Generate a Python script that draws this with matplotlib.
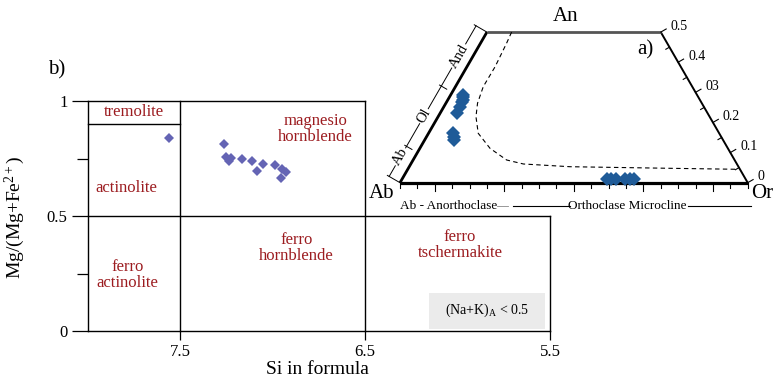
import numpy as np
import matplotlib
matplotlib.use('Agg')
import matplotlib.pyplot as plt

plt.rcParams['font.family'] = ['Liberation Serif', 'DejaVu Serif']
plt.rcParams['mathtext.fontset'] = 'stix'
plt.rcParams['mathtext.default'] = 'regular'

# b) amphibole classification (Leake)
si = [7.56, 7.262, 7.251, 7.237, 7.226, 7.165, 7.111, 7.082, 7.05, 6.988, 6.949, 6.927, 6.954]
mg = [0.839, 0.812, 0.758, 0.739, 0.751, 0.746, 0.739, 0.697, 0.725, 0.723, 0.703, 0.691, 0.664]
si_ticks = [7.5, 6.5, 5.5]
mg_ticks = [0, 0.5, 1]
field_names = ['tremolite', 'magnesio\nhornblende', 'actinolite', 'ferro\nactinolite',
               'ferro\nhornblende', 'ferro\ntschermakite']
field_si = [7.75, 6.77, 7.79, 7.784, 6.869, 5.986]
field_mg = [0.952, 0.878, 0.62, 0.243, 0.361, 0.374]

# a) feldspar ternary, fractions of Or and An (Ab = rest)
fsp_or = [0.036, 0.040, 0.043, 0.046, 0.048, 0.042, 0.071, 0.078, 0.085,
          0.588, 0.600, 0.615, 0.642, 0.655, 0.666]
fsp_an = [0.291, 0.283, 0.269, 0.252, 0.230, 0.276, 0.164, 0.153, 0.142,
          0.012, 0.012, 0.012, 0.012, 0.012, 0.012]
solvus_or = [0.071, 0.075, 0.081, 0.080, 0.091, 0.109, 0.143, 0.202, 0.269, 0.324, 0.462, 0.753, 0.95]
solvus_an = [0.5, 0.463, 0.385, 0.319, 0.264, 0.219, 0.164, 0.114, 0.0754, 0.0621, 0.0531, 0.0478, 0.0445]
an_ticks = [0, 0.1, 0.2, 0.3, 0.4, 0.5]
an_labels = ['0', '0.1', '0.2', '03', '0.4', '0.5']
plag_names = ['Ab', 'Ol', 'And']
plag_bounds = [0, 0.1, 0.3, 0.5]

red = '#9c1c20'

fig = plt.figure(figsize=(7.77, 3.81), dpi=100)

# ---------- b) ----------
ax = fig.add_axes([87.5 / 777, 50 / 381, 462.5 / 777, 230 / 381])
ax.set_xlim(8.0, 5.5)
ax.set_ylim(0, 1)
for s in ['top', 'right']:
    ax.spines[s].set_visible(False)
for s in ['left', 'bottom']:
    ax.spines[s].set_linewidth(1.0)
ax.set_xticks(si_ticks)
ax.set_xticklabels(['7.5', '6.5', '5.5'])
ax.set_yticks(mg_ticks)
ax.set_yticklabels(['0', '0.5', '1'])
ax.set_yticks([0.25, 0.75], minor=True)
ax.tick_params(axis='y', which='major', length=11.5, width=0.9, labelsize=12, pad=3)
ax.tick_params(axis='y', which='minor', length=8, width=0.9)
ax.tick_params(axis='x', which='major', length=6.5, width=0.9, labelsize=12, pad=3)

lk = dict(color='black', lw=1.0, clip_on=False)
ax.plot([8.0, 6.5], [1, 1], **lk)
ax.plot([8.0, 7.5], [0.9, 0.9], **lk)
ax.plot([7.5, 7.5], [0, 1], **lk)
ax.plot([8.0, 5.5], [0.5, 0.5], **lk)
ax.plot([6.5, 6.5], [0, 1], **lk)
ax.plot([5.5, 5.5], [0, 0.5], **lk)

ax.add_patch(plt.Rectangle((6.154, 0.007), 5.527 - 6.154, 0.157, color='#ebebeb', lw=0))
ax.text(5.841, 0.091, '(Na+K)$_{\\mathregular{A}}$ < 0.5', fontsize=10, ha='center', va='center')

for name, x, y in zip(field_names, field_si, field_mg):
    ax.text(x, y, name, color=red, fontsize=12, ha='center', va='center', linespacing=0.95)

ax.plot(si, mg, 'D', color='#6464b4', ms=5, mew=0)

fig.text(317 / 777, 1 - 370 / 381, 'Si in formula', fontsize=14, ha='center', va='center')
fig.text(15 / 777, 1 - 217 / 381, 'Mg/(Mg+Fe$^{2+}$)', fontsize=14, ha='center', va='center',
         rotation=90)
fig.text(57 / 777, 1 - 70 / 381, 'b)', fontsize=15, ha='center', va='center')

# ---------- a) ----------
tx = fig.add_axes([400 / 777, (381 - 182.7) / 381, 347.7 / 777, 150.6 / 381])
tx.set_xlim(0, 1)
tx.set_ylim(0, np.sqrt(3) / 4)
tx.axis('off')
h = np.sqrt(3) / 2


def tern(o, a):
    o = np.asarray(o, dtype=float)
    a = np.asarray(a, dtype=float)
    return o + a / 2, a * h


kw = dict(clip_on=False, solid_capstyle='butt')
tx.plot([0, 1], [0, 0], color='black', lw=2.3, **kw)
x, y = tern([0, 0], [0, 0.5])
tx.plot(x, y, color='black', lw=2.0, **kw)
x, y = tern([1, 0.5], [0, 0.5])
tx.plot(x, y, color='black', lw=1.4, **kw)
x, y = tern([0, 0.5], [0.5, 0.5])
tx.plot(x, y, color='#555555', lw=2.0, **kw)

# bottom ticks
for k in range(21):
    ln = 0.024 if k in (2, 6, 10, 14, 18) else 0.016
    tx.plot([k * 0.05, k * 0.05], [0, -ln], color='black', lw=0.8, clip_on=False)

# right edge ticks and labels
nr = np.array([h, 0.5])
for k in range(11):
    a = k * 0.05
    bx, by = tern(1 - a, a)
    if k % 2 == 0:
        tx.plot([bx, bx + nr[0] * 0.018], [by, by + nr[1] * 0.018], color='black', lw=0.8, clip_on=False)
    else:
        tx.plot([bx, bx - nr[0] * 0.012], [by, by - nr[1] * 0.012], color='black', lw=0.8, clip_on=False)
for a, lab in zip(an_ticks, an_labels):
    bx, by = tern(1 - a, a)
    tx.text(bx + nr[0] * 0.033, by + nr[1] * 0.033, lab, fontsize=10, ha='left', va='center')

# plagioclase bracket on the left edge
nl = np.array([-h, 0.5])
d0 = 0.036
x0, y0 = tern(0, 0)
x1, y1 = tern(0, 0.5)
tx.plot([x0 + nl[0] * d0, x1 + nl[0] * d0], [y0 + nl[1] * d0, y1 + nl[1] * d0],
        color='black', lw=0.7, clip_on=False)
for b in plag_bounds:
    bx, by = tern(0, b)
    inner = 0.0 if b in (0, 0.5) else d0 - 0.018
    tx.plot([bx + nl[0] * inner, bx + nl[0] * (d0 + 0.006)],
            [by + nl[1] * inner, by + nl[1] * (d0 + 0.006)], color='black', lw=0.7, clip_on=False)
for name, lo, hi in zip(plag_names, plag_bounds[:-1], plag_bounds[1:]):
    bx, by = tern(0, (lo + hi) / 2 + (0.015 if name == 'Ab' else 0))
    tx.text(bx + nl[0] * d0, by + nl[1] * d0, name, fontsize=10.5, rotation=60,
            ha='center', va='center', rotation_mode='anchor',
            bbox=dict(facecolor='white', edgecolor='none', pad=0.6))

# solvus
x, y = tern(solvus_or, solvus_an)
tx.plot(x, y, color='black', lw=0.8, ls=(0, (4, 3)), clip_on=False)

# feldspar analyses
x, y = tern(fsp_or, fsp_an)
tx.plot(x, y, 'D', color='#1f5b98', ms=6.8, mew=0, clip_on=False)

# bottom names
yb = -0.067
tx.text(0.139, yb, 'Ab - Anorthoclase', fontsize=9.5, ha='center', va='center')
tx.plot([0.28, 0.31], [yb, yb], color='#888888', lw=0.6, clip_on=False)
tx.plot([0.325, 0.489], [yb, yb], color='black', lw=0.8, clip_on=False)
tx.text(0.654, yb, 'Orthoclase Microcline', fontsize=9.5, ha='center', va='center')
tx.plot([0.828, 1.01], [yb, yb], color='black', lw=0.8, clip_on=False)

tx.text(-0.052, -0.03, 'Ab', fontsize=15, ha='center', va='center')
tx.text(1.041, -0.03, 'Or', fontsize=15, ha='center', va='center')
tx.text(0.477, 0.479, 'An', fontsize=15, ha='center', va='center')
tx.text(0.705, 0.382, 'a)', fontsize=15, ha='center', va='center')

fig.savefig('out.png', dpi=100)
